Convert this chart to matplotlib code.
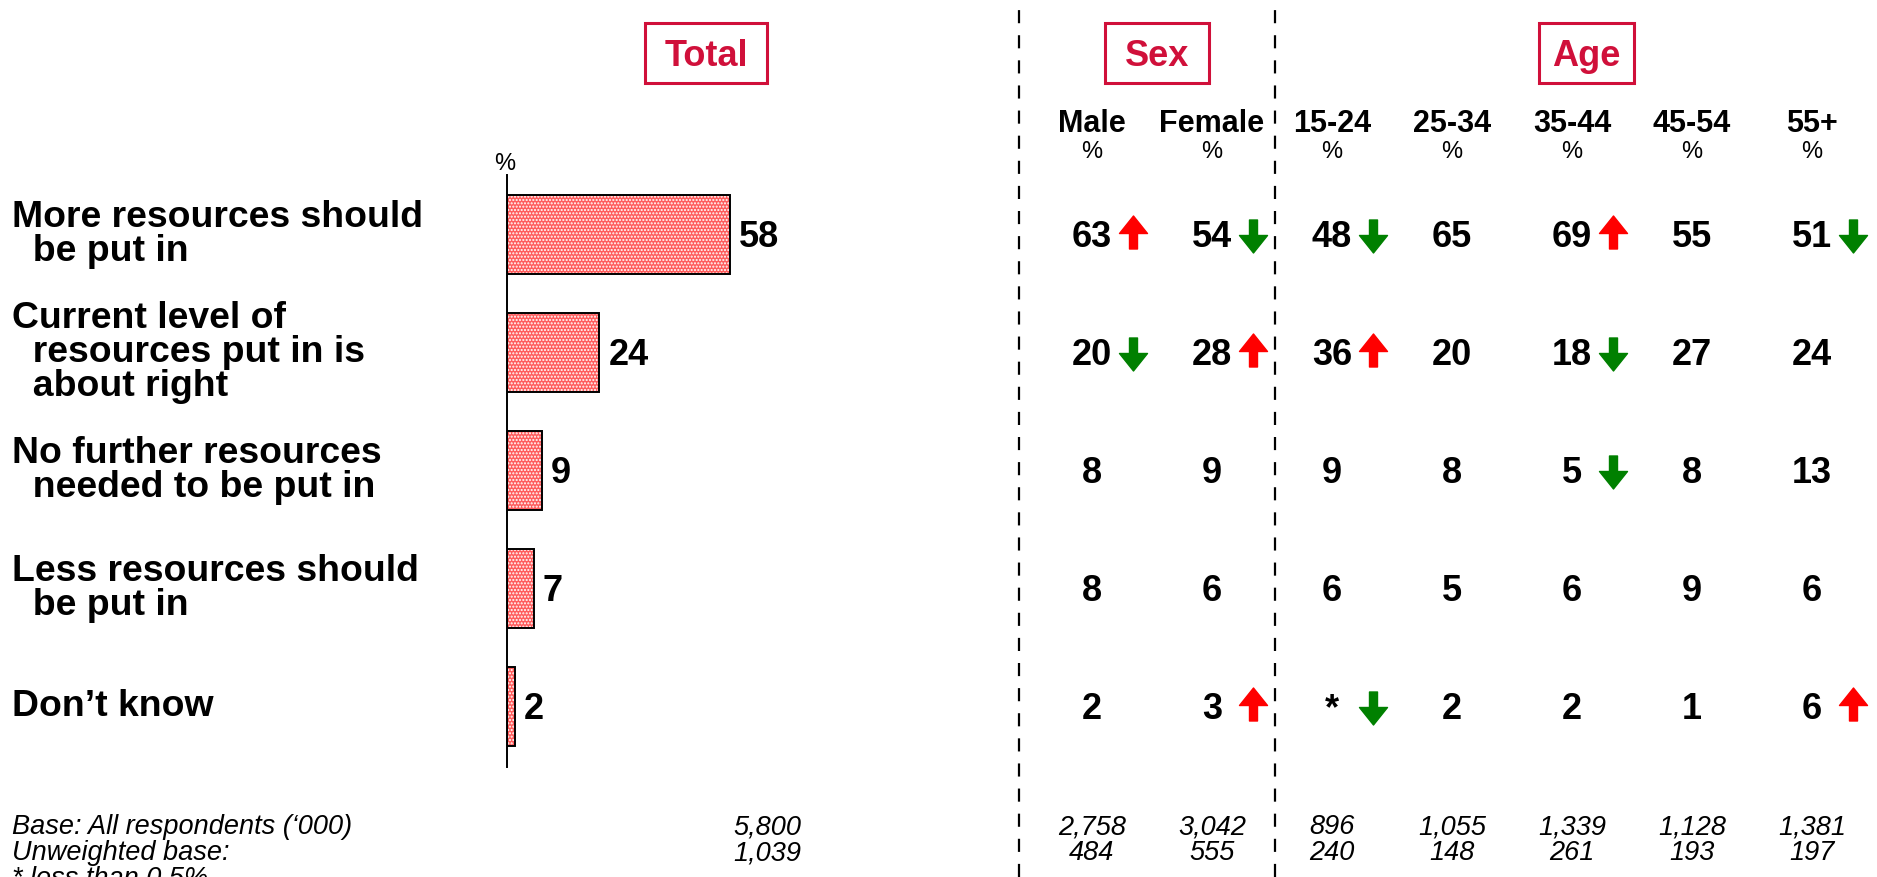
import numpy as np
import matplotlib
matplotlib.use("Agg")
import matplotlib.pyplot as plt
from matplotlib.path import Path
from matplotlib.lines import Line2D
from matplotlib.patches import Rectangle
from matplotlib import transforms

plt.rcParams['font.family'] = ['Liberation Sans', 'DejaVu Sans']

# ---------------- data ----------------
row_labels = ["More resources should\n  be put in",
              "Current level of\n  resources put in is\n  about right",
              "No further resources\n  needed to be put in",
              "Less resources should\n  be put in",
              "Don\u2019t know"]
total_values = [58, 24, 9, 7, 2]

group_titles = ["Total", "Sex", "Age"]
columns = ["Male", "Female", "15-24", "25-34", "35-44", "45-54", "55+"]
male = ["63", "20", "8", "8", "2"]
female = ["54", "28", "9", "6", "3"]
age_15_24 = ["48", "36", "9", "6", "*"]
age_25_34 = ["65", "20", "8", "5", "2"]
age_35_44 = ["69", "18", "5", "6", "2"]
age_45_54 = ["55", "27", "8", "9", "1"]
age_55_plus = ["51", "24", "13", "6", "6"]
# significance: 1 = significantly higher, -1 = significantly lower, 0 = none
sig_male = [1, -1, 0, 0, 0]
sig_female = [-1, 1, 0, 0, 1]
sig_15_24 = [-1, 1, 0, 0, -1]
sig_25_34 = [0, 0, 0, 0, 0]
sig_35_44 = [1, -1, -1, 0, 0]
sig_45_54 = [0, 0, 0, 0, 0]
sig_55_plus = [-1, 0, 0, 0, 1]

base_total = "5,800"
unweighted_total = "1,039"
base_cols = ["2,758", "3,042", "896", "1,055", "1,339", "1,128", "1,381"]
unweighted_cols = ["484", "555", "240", "148", "261", "193", "197"]

table_values = [male, female, age_15_24, age_25_34, age_35_44, age_45_54, age_55_plus]
table_sig = [sig_male, sig_female, sig_15_24, sig_25_34, sig_35_44, sig_45_54, sig_55_plus]

# ---------------- layout helpers ----------------
W, H = 1877, 877
DPI = 100
def fx(px):
    return px / W
def fy(py):
    return 1 - py / H

CRIMSON = '#D0103A'
fig = plt.figure(figsize=(W / DPI, H / DPI), dpi=DPI)

# bar axes
ax_bar = fig.add_axes([fx(507), fy(767), 384.5 / W, (767 - 175) / H])
ax_bar.set_xlim(0, 100)
ax_bar.set_ylim(4.513, -0.504)
ypos = np.arange(len(total_values))
ax_bar.barh(ypos, total_values, height=0.67, color='#ff5c5c', edgecolor='white',
            hatch='.....', linewidth=0, zorder=2)
ax_bar.barh(ypos, total_values, height=0.67, fill=False, edgecolor='black',
            linewidth=1.4, zorder=3)
for s in ['top', 'right', 'bottom']:
    ax_bar.spines[s].set_visible(False)
ax_bar.spines['left'].set_linewidth(1.4)
ax_bar.set_xticks([])
ax_bar.set_yticks([])
ax_bar.patch.set_alpha(0)

num_fs = 26
digit_half = num_fs * DPI / 72 * 0.716 / 2  # px
down_shift = transforms.ScaledTranslation(0, -digit_half / DPI, fig.dpi_scale_trans)

for i, v in enumerate(total_values):
    ax_bar.text(v, i, str(v), transform=ax_bar.transData + down_shift +
                transforms.ScaledTranslation(9 / DPI, 0, fig.dpi_scale_trans),
                ha='left', va='baseline', fontsize=num_fs, fontweight='bold')

fig.text(fx(505), fy(170), '%', ha='center', va='baseline', fontsize=17)

# row labels
lab_trans = transforms.blended_transform_factory(fig.transFigure, ax_bar.transData)
for i, lab in enumerate(row_labels):
    fig.text(fx(12), i, lab, transform=lab_trans, ha='left', va='center',
             fontsize=26.9, fontweight='bold', linespacing=0.97)

# table axes
ax_tab = fig.add_axes([fx(1032), fy(767), 840 / W, (767 - 175) / H])
ax_tab.set_xlim(-0.5, 6.5)
ax_tab.set_ylim(4.513, -0.504)
ax_tab.axis('off')

up_verts = [(0, 16.5), (14, -1), (4, -1), (4, -16.5), (-4, -16.5), (-4, -1), (-14, -1), (0, 16.5)]
up_codes = [Path.MOVETO] + [Path.LINETO] * 6 + [Path.CLOSEPOLY]
up_path = Path(up_verts, up_codes)
down_path = Path([(x, -y) for x, y in up_verts], up_codes)
arrow_ms = 33 * 72 / DPI

for c, (vals, sigs) in enumerate(zip(table_values, table_sig)):
    for r, (v, s) in enumerate(zip(vals, sigs)):
        ax_tab.text(c, r, v, transform=ax_tab.transData + down_shift, ha='center',
                    va='baseline', fontsize=num_fs, fontweight='bold', clip_on=False)
        if s == 1:
            ax_tab.plot([c + 0.34], [r - 0.025], marker=up_path, markersize=arrow_ms,
                        color='#FF0000', linestyle='none', clip_on=False)
        elif s == -1:
            ax_tab.plot([c + 0.34], [r + 0.015], marker=down_path, markersize=arrow_ms,
                        color='#008000', linestyle='none', clip_on=False)

note_fs = 19.5
col_trans = transforms.blended_transform_factory(ax_tab.transData, fig.transFigure)
for c, name in enumerate(columns):
    ax_tab.text(c, fy(132), name, transform=col_trans, ha='center', va='baseline',
                fontsize=22, fontweight='bold', clip_on=False)
    ax_tab.text(c, fy(158), '%', transform=col_trans, ha='center', va='baseline',
                fontsize=17, clip_on=False)
    ax_tab.text(c, fy(834), base_cols[c], transform=col_trans, ha='center', va='baseline',
                fontsize=note_fs, style='italic', clip_on=False)
    ax_tab.text(c, fy(860), unweighted_cols[c], transform=col_trans, ha='center', va='baseline',
                fontsize=note_fs, style='italic', clip_on=False)

# group title boxes
boxes = [(645, 767), (1105, 1209), (1539, 1634)]
for title, (x0, x1) in zip(group_titles, boxes):
    fig.add_artist(Rectangle((fx(x0), fy(83)), (x1 - x0) / W, 60 / H,
                             transform=fig.transFigure, fill=False,
                             edgecolor=CRIMSON, linewidth=2.2))
    fig.text(fx((x0 + x1) / 2), fy(53), title, ha='center', va='center_baseline',
             fontsize=26, fontweight='bold', color=CRIMSON)

# dashed separators
for xpx in (1019, 1275):
    fig.add_artist(Line2D([fx(xpx), fx(xpx)], [0, 1], transform=fig.transFigure,
                          color='black', linewidth=1.6, dashes=(5.9, 5.4)))

# base notes
fig.text(fx(12), fy(834), 'Base: All respondents (\u2018000)', ha='left', va='baseline',
         fontsize=note_fs, style='italic')
fig.text(fx(12), fy(860), 'Unweighted base:', ha='left', va='baseline',
         fontsize=note_fs, style='italic')
fig.text(fx(12), fy(886), '* less than 0.5%', ha='left', va='baseline',
         fontsize=note_fs, style='italic')
fig.text(fx(801), fy(834), base_total, ha='right', va='baseline', fontsize=note_fs, style='italic')
fig.text(fx(801), fy(860), unweighted_total, ha='right', va='baseline', fontsize=note_fs, style='italic')

fig.savefig('out.png', dpi=DPI)
